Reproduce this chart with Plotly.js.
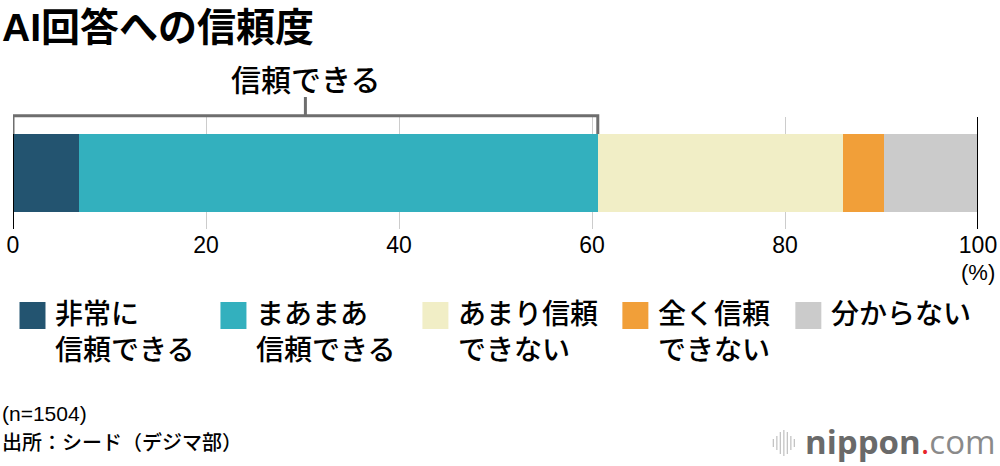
<!DOCTYPE html>
<html><head><meta charset="utf-8">
<script src="https://cdn.plot.ly/plotly-3.0.1.min.js"></script>
<style>html,body{margin:0;padding:0;background:#fff}#chart{width:1000px;height:466px}</style>
</head><body><div id="chart"></div>
<script>
// ---- data ----
const categories = ['非常に<br>信頼できる', 'まあまあ<br>信頼できる', 'あまり信頼<br>できない', '全く信頼<br>できない', '分からない'];
const values = [6.8, 53.8, 25.4, 4.3, 9.7];
const colors = ['#235470', '#33b0be', '#f1eec6', '#f19f39', '#cbcbcb'];
const tickVals = [0, 20, 40, 60, 80, 100];
const tickText = ['0', '20', '40', '60', '80', '100'];
const titleText = 'AI回答への信頼度';
const bracketLabel = '信頼できる';
const unitLabel = '(%)';
const noteText = '(n=1504)';
const sourceText = '出所：シード（デジマ部）';

// ---- layout helpers ----
const W = 1000, H = 466;
const M = {l: 12.5, r: 22.3, t: 117, b: 237};
const plotW = W - M.l - M.r, plotH = H - M.t - M.b;
const px = x => (x - M.l) / plotW;          // pixel x -> paper
const py = y => (H - M.b - y) / plotH;      // pixel y -> paper
const FONT = 'Liberation Sans, Arial, "Noto Sans CJK JP", sans-serif';

const traces = categories.map((c, i) => ({
  type: 'bar', orientation: 'h', name: c,
  x: [values[i]], y: ['all'],
  marker: {color: colors[i], line: {width: 0}},
  showlegend: false, hoverinfo: 'skip'
}));

const trustSum = values[0] + values[1];
const shapes = [];
const annotations = [];

// axis end lines at 0 and 100
[tickVals[0], tickVals[tickVals.length - 1]].forEach(v => shapes.push({
  type: 'line', xref: 'x', yref: 'paper', x0: v, x1: v, y0: 0, y1: 1,
  line: {color: '#000', width: 2}, layer: 'above'
}));

// bracket over the "trust" group
shapes.push({
  type: 'path', xref: 'x', yref: 'paper', layer: 'above',
  path: `M 0,${py(134)} L 0,${py(115.7)} L ${trustSum},${py(115.7)} L ${trustSum},${py(134)}`,
  line: {color: '#6e6e6e', width: 3}
});
shapes.push({
  type: 'line', xref: 'x', yref: 'paper', layer: 'above',
  x0: trustSum / 2, x1: trustSum / 2, y0: py(115.7), y1: py(97),
  line: {color: '#6e6e6e', width: 3}
});
annotations.push({
  xref: 'x', yref: 'paper', x: trustSum / 2, y: py(80), xanchor: 'center', yanchor: 'middle',
  text: bracketLabel, showarrow: false, font: {family: FONT, size: 30, color: '#000', weight: 500}
});

// unit label
annotations.push({
  xref: 'x', yref: 'paper', x: tickVals[tickVals.length - 1], y: py(272), xanchor: 'center', yanchor: 'middle',
  text: unitLabel, showarrow: false, font: {family: FONT, size: 22, color: '#000'}
});

// manual legend
const legendLeft = [19, 220, 422, 622, 795];
categories.forEach((c, i) => {
  const L = legendLeft[i];
  shapes.push({type: 'rect', xref: 'paper', yref: 'paper', x0: px(L), x1: px(L + 26), y0: py(329), y1: py(302),
    fillcolor: colors[i], line: {width: 0}});
  annotations.push({xref: 'paper', yref: 'paper', x: px(L + 34), y: py(297), xanchor: 'left', yanchor: 'top',
    align: 'left', text: c, showarrow: false, font: {family: FONT, size: 28, color: '#000', weight: 500}});
});

// footer notes
annotations.push({xref: 'paper', yref: 'paper', x: px(-1), y: py(413), xanchor: 'left', yanchor: 'middle',
  text: noteText, showarrow: false, font: {family: FONT, size: 21, color: '#000'}});
annotations.push({xref: 'paper', yref: 'paper', x: px(-1), y: py(442), xanchor: 'left', yanchor: 'middle',
  text: sourceText, showarrow: false, font: {family: FONT, size: 20, color: '#000', weight: 500}});

// logo
annotations.push({xref: 'paper', yref: 'paper', x: px(998), y: py(441), xanchor: 'right', yanchor: 'middle',
  text: '<b>nippon</b><span style="color:#e8242a">.</span><span style="color:#8a8a8a">com</span>',
  showarrow: false, font: {family: 'Open Sans, sans-serif', size: 33, color: '#6a6a6a'}});
const waveX = [773, 776.5, 780, 783.5, 787, 790.5, 794];
const waveH = [8, 14, 22, 26, 22, 14, 8];
waveX.forEach((x, i) => shapes.push({type: 'line', xref: 'paper', yref: 'paper',
  x0: px(x), x1: px(x), y0: py(443 - waveH[i] / 2), y1: py(443 + waveH[i] / 2),
  line: {color: '#c4c4c4', width: 1.3}}));

const layout = {
  width: W, height: H,
  margin: M,
  paper_bgcolor: '#fff', plot_bgcolor: '#fff',
  barmode: 'stack', bargap: 0.3,
  title: {text: '<b>' + titleText + '</b>', xref: 'container', yref: 'container', x: 0.002, xanchor: 'left',
    y: 1 - 27 / H, yanchor: 'middle', font: {family: FONT, size: 39, color: '#000'}},
  xaxis: {range: [0, 100], tickvals: tickVals, ticktext: tickText, showgrid: true, gridcolor: '#cccccc', gridwidth: 1,
    zeroline: false, showline: false, ticks: '', tickfont: {family: FONT, size: 23, color: '#000'}, fixedrange: true},
  yaxis: {range: [-0.5, 0.5], showticklabels: false, showgrid: false, zeroline: false, fixedrange: true},
  shapes, annotations,
  showlegend: false
};

Plotly.newPlot('chart', traces, layout, {displayModeBar: false, staticPlot: true});
</script></body></html>
